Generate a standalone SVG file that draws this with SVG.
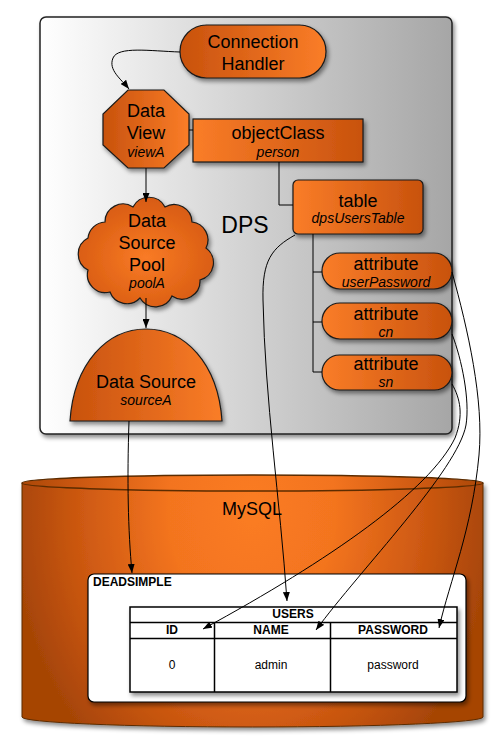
<svg xmlns="http://www.w3.org/2000/svg" width="503" height="755" viewBox="0 0 503 755">
<defs>
<linearGradient id="dl" x1="0" y1="0" x2="1" y2="0"><stop offset="0" stop-color="#c8520d"/><stop offset="1" stop-color="#fa7d28"/></linearGradient>
<linearGradient id="ld" x1="0" y1="0" x2="1" y2="0"><stop offset="0" stop-color="#fa7d28"/><stop offset="1" stop-color="#c8520d"/></linearGradient>
<radialGradient id="cloudg" cx="0.5" cy="0.55" r="0.6"><stop offset="0" stop-color="#f97b26"/><stop offset="1" stop-color="#d4580f"/></radialGradient>
<linearGradient id="dpsg" x1="0" y1="0" x2="1" y2="0"><stop offset="0" stop-color="#ffffff"/><stop offset="1" stop-color="#a6a6a6"/></linearGradient>
<radialGradient id="cylg" gradientUnits="userSpaceOnUse" cx="252" cy="510" r="240" gradientTransform="translate(252 510) scale(1 1.3) translate(-252 -510)"><stop offset="0" stop-color="#fb7c22"/><stop offset="0.35" stop-color="#f3741f"/><stop offset="0.75" stop-color="#c95610"/><stop offset="1" stop-color="#a64506"/></radialGradient>
<filter id="sh" x="-20%" y="-20%" width="140%" height="150%"><feDropShadow dx="2" dy="3" stdDeviation="2" flood-color="#000" flood-opacity="0.45"/></filter>
<marker id="ar" viewBox="0 0 9 7" refX="9" refY="3.5" markerWidth="9" markerHeight="7" markerUnits="userSpaceOnUse" orient="auto"><path d="M0,0 L9,3.5 L0,7 z" fill="#000"/></marker>
<style>
.n{stroke:#1a1a1a;stroke-width:1.2}
.t{font-family:"Liberation Sans",Arial,Helvetica,sans-serif;font-size:18px;fill:#000;text-anchor:middle}
.i{font-family:"Liberation Sans",Arial,Helvetica,sans-serif;font-size:14px;font-style:italic;fill:#000;text-anchor:middle}
.b{font-family:"Liberation Sans",Arial,Helvetica,sans-serif;font-size:12px;font-weight:bold;fill:#000;text-anchor:middle}
.r{font-family:"Liberation Sans",Arial,Helvetica,sans-serif;font-size:12px;fill:#000;text-anchor:middle}
.c{fill:none;stroke:#000;stroke-width:1}
.ca{fill:none;stroke:#000;stroke-width:1;marker-end:url(#ar)}
</style>
</defs>

<g id="dps">
<rect x="40" y="17" width="412" height="417" rx="6" fill="url(#dpsg)" stroke="#222" stroke-width="1.5" filter="url(#sh)"/>
<text class="t" x="245" y="233" style="font-size:23px">DPS</text>
</g>

<g id="mysql">
<path d="M22,483 L22,717 A230.5,10 0 0 0 483,717 L483,483 Z" fill="url(#cylg)" stroke="#5c2c00" stroke-width="1" filter="url(#sh)"/>
<ellipse cx="252.5" cy="483" rx="230.5" ry="8" fill="url(#cylg)" stroke="#5c2c00" stroke-width="1.5"/>
<text class="t" x="252" y="515">MySQL</text>
</g>

<g id="deadsimple">
<rect x="88" y="574" width="378" height="128" rx="6" fill="#fff" stroke="#000" stroke-width="1.2" filter="url(#sh)"/>
<text class="b" x="93" y="586" style="text-anchor:start">DEADSIMPLE</text>
</g>

<g id="users">
<rect x="130" y="607" width="327" height="85" fill="#fff" stroke="#000" stroke-width="1.5" filter="url(#sh)"/>
<path d="M130,622.5 L457,622.5 M130,638.5 L457,638.5 M214.5,622.5 L214.5,692 M330.5,622.5 L330.5,692" stroke="#000" stroke-width="1.5" fill="none"/>
<text class="b" x="293" y="618">USERS</text>
<text class="b" x="172" y="634">ID</text>
<text class="b" x="271" y="634">NAME</text>
<text class="b" x="393" y="634">PASSWORD</text>
<text class="r" x="172" y="669">0</text>
<text class="r" x="271" y="669">admin</text>
<text class="r" x="393" y="669">password</text>
</g>

<g id="connectionHandler">
<rect class="n" x="180" y="25" width="146" height="53" rx="26.5" fill="url(#dl)" filter="url(#sh)"/>
<text class="t" x="253" y="48">Connection</text>
<text class="t" x="253" y="70">Handler</text>
</g>

<g id="dataView">
<polygon class="n" points="128,90 164,90 189,114 189,145 164,168 128,168 103,145 103,114" fill="url(#dl)" filter="url(#sh)"/>
<text class="t" x="146" y="117">Data</text>
<text class="t" x="146" y="139">View</text>
<text class="i" x="146" y="157">viewA</text>
</g>

<g id="objectClass">
<rect class="n" x="193" y="119" width="170" height="43" fill="url(#ld)" filter="url(#sh)"/>
<text class="t" x="278" y="139">objectClass</text>
<text class="i" x="278" y="157">person</text>
</g>

<g id="table">
<rect class="n" x="293" y="180" width="130" height="54" rx="5" fill="url(#ld)" filter="url(#sh)"/>
<text class="t" x="358" y="207">table</text>
<text class="i" x="358" y="223">dpsUsersTable</text>
</g>

<g id="attrUserPassword">
<rect class="n" x="322" y="253" width="130" height="36" rx="18" fill="url(#ld)" filter="url(#sh)"/>
<text class="t" x="386" y="270">attribute</text>
<text class="i" x="386" y="287">userPassword</text>
</g>

<g id="attrCn">
<rect class="n" x="322" y="303" width="130" height="36" rx="18" fill="url(#ld)" filter="url(#sh)"/>
<text class="t" x="386" y="320">attribute</text>
<text class="i" x="386" y="337">cn</text>
</g>

<g id="attrSn">
<rect class="n" x="322" y="355" width="130" height="35" rx="17.5" fill="url(#ld)" filter="url(#sh)"/>
<text class="t" x="386" y="370">attribute</text>
<text class="i" x="386" y="387">sn</text>
</g>

<g id="dataSourcePool">
<path class="n" d="M105,222 A18,18 0 0 1 133,207 A18,18 0 0 1 165,207 A18,18 0 0 1 192,222 A18,18 0 0 1 206,248 A18,18 0 0 1 200,280 A18,18 0 0 1 172,296 A18,18 0 0 1 140,298 A18,18 0 0 1 110,292 A18,18 0 0 1 88,270 A18,18 0 0 1 88,238 A18,18 0 0 1 105,222 Z" fill="url(#cloudg)" filter="url(#sh)"/>
<text class="t" x="147" y="227">Data</text>
<text class="t" x="147" y="249">Source</text>
<text class="t" x="147" y="271">Pool</text>
<text class="i" x="147" y="288">poolA</text>
</g>

<g id="dataSource">
<path class="n" d="M70,421 C74,362 108,329 146,329 C184,329 218,362 222,421 Z" fill="url(#dl)" filter="url(#sh)"/>
<text class="t" x="146" y="388">Data Source</text>
<text class="i" x="146" y="405">sourceA</text>
</g>

<g id="connectors">
<path class="ca" d="M180,52 C150,51 118,46 113,58 C108,70 121,79 129,89"/>
<path class="ca" d="M146,168 L146,202"/>
<path class="ca" d="M146,298 L146,328"/>
<path class="c" d="M189,130 L193,130"/>
<path class="c" d="M279,162 L279,205 L293,205"/>
<path class="c" d="M313,234 L313,372 M313,272 L322,272 M313,322 L322,322 M313,372 L322,372"/>
<path class="ca" d="M129,421 C127,480 128,530 132,573"/>
<path class="ca" d="M295,235 C272,248 262,260 263,300 C265,400 280,500 287,601"/>
<path class="ca" d="M452,272 C468,330 484,400 479,455 C472,530 450,580 439,628"/>
<path class="ca" d="M452,334 C462,360 470,400 466,425 C458,470 360,570 316,630"/>
<path class="ca" d="M452,384 C460,398 464,415 455,438 C430,490 330,560 203,629"/>
</g>
</svg>
